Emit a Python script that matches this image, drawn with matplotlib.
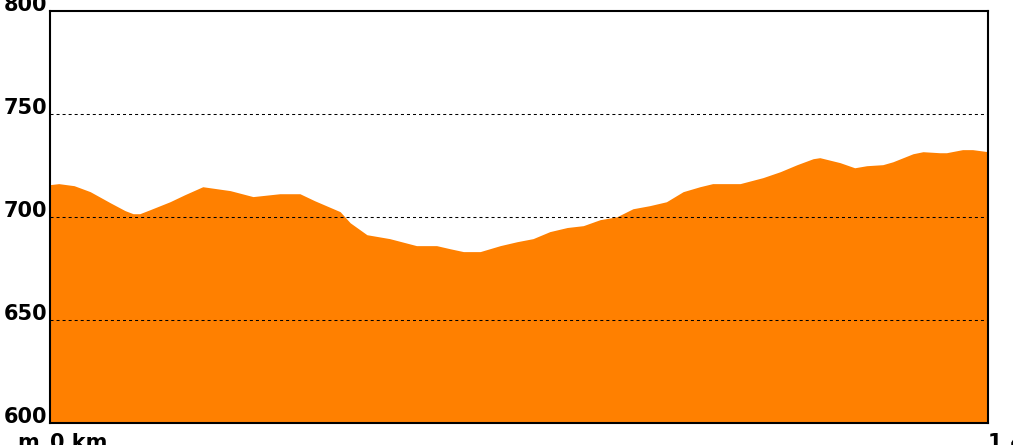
import matplotlib
matplotlib.use("Agg")
import matplotlib.pyplot as plt

# elevation profile
dist_km = [0.0, 0.013, 0.036, 0.060, 0.090, 0.112, 0.124, 0.134, 0.149, 0.179,
           0.201, 0.228, 0.269, 0.303, 0.343, 0.373, 0.395, 0.433, 0.448, 0.473,
           0.507, 0.547, 0.577, 0.597, 0.617, 0.642, 0.642, 0.672, 0.697, 0.721,
           0.746, 0.772, 0.796, 0.821, 0.846, 0.870, 0.895, 0.920, 0.945, 0.970,
           0.989, 1.030, 1.064, 1.090, 1.115, 1.139, 1.149, 1.179, 1.201, 1.219,
           1.243, 1.258, 1.288, 1.303, 1.328, 1.338, 1.362, 1.377, 1.400]
elev_m = [715.7, 716.2, 715.2, 712.3, 706.9, 703.1, 701.6, 701.6, 703.5, 707.4,
          710.8, 714.7, 712.8, 709.9, 711.3, 711.3, 707.9, 702.6, 697.2, 691.4,
          689.5, 686.1, 686.1, 684.6, 683.2, 683.2, 683.2, 686.1, 688.0, 689.5,
          692.9, 694.9, 695.8, 698.7, 700.1, 704.0, 705.5, 707.4, 712.3, 714.7,
          716.2, 716.2, 719.1, 722.0, 725.4, 728.3, 728.8, 726.4, 723.9, 724.9,
          725.4, 726.8, 730.7, 731.7, 731.2, 731.2, 732.7, 732.7, 731.7]
y_ticks = [600, 650, 700, 750, 800]
x_ticks = [0.0, 1.4]
x_labels = ["0 km", "1.4 km"]

fig = plt.figure(figsize=(10.13, 4.45), dpi=100)
ax = fig.add_axes([50 / 1013, 22 / 445, 938 / 1013, 412 / 445])

ax.fill_between(dist_km, elev_m, 600, color="#ff8000", linewidth=0, zorder=1)
ax.set_xlim(0, 1.4)
ax.set_ylim(600, 800)

for v in [650, 700, 750]:
    ax.axhline(v, color="black", linewidth=0.75, linestyle=(0, (2.9, 2.9)), zorder=2)

for s in ax.spines.values():
    s.set_linewidth(1.5)
    s.set_zorder(3)

ax.set_yticks(y_ticks)
ax.set_yticklabels([str(v) for v in y_ticks], fontsize=15, fontweight="bold")
ax.tick_params(axis="y", length=0, pad=2)
for lbl in ax.get_yticklabels():
    lbl.set_va("baseline")

ax.set_xticks(x_ticks)
ax.set_xticklabels(x_labels, fontsize=15, fontweight="bold")
ax.tick_params(axis="x", length=0, pad=7)
for lbl in ax.get_xticklabels():
    lbl.set_ha("left")

fig.text(39 / 1013, 1 - 433 / 445, "m", fontsize=15, fontweight="bold",
         ha="right", va="top")

fig.savefig("out.png", dpi=100)
